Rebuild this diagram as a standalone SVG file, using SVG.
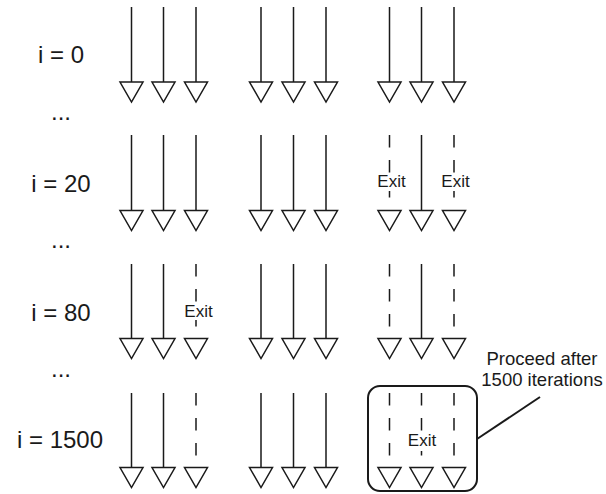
<svg xmlns="http://www.w3.org/2000/svg" xmlns:xlink="http://www.w3.org/1999/xlink" width="606" height="494" viewBox="0 0 606 494">
<style>
.s{stroke:#1a1a1a;stroke-width:1.5;fill:none}
.d{stroke:#1a1a1a;stroke-width:1.5;fill:none;stroke-dasharray:12.5 12.5}
.t{fill:#fff;stroke:#1a1a1a;stroke-width:1.5;stroke-linejoin:miter}
.lbl{font-family:"Liberation Sans",Arial,sans-serif;font-size:24px;fill:#1a1a1a;text-anchor:middle}
.ex{font-family:"Liberation Sans",Arial,sans-serif;font-size:17px;fill:#1a1a1a;text-anchor:middle}
.note{font-family:"Liberation Sans",Arial,sans-serif;font-size:18.5px;fill:#1a1a1a;text-anchor:middle}
.bg{fill:#fff}
</style>
<defs>
<path id="tri" class="t" d="M-11.5,0 L11.5,0 L0,20 Z"/>
</defs>
<rect width="606" height="494" fill="#fff"/>

<g id="labels">
<text class="lbl" x="61" y="63">i = 0</text>
<text class="lbl" x="61" y="120">...</text>
<text class="lbl" x="61" y="192">i = 20</text>
<text class="lbl" x="61" y="248">...</text>
<text class="lbl" x="61" y="321">i = 80</text>
<text class="lbl" x="61" y="377">...</text>
<text class="lbl" x="60" y="448">i = 1500</text>
</g>

<g id="row0">
<path class="s" d="M131.5,7V82M163.5,7V82M196,7V82M261,7V82M293.5,7V82M326,7V82M389.5,7V82M421.5,7V82M454,7V82"/>
<use xlink:href="#tri" x="131.5" y="82"/><use xlink:href="#tri" x="163.5" y="82"/><use xlink:href="#tri" x="196" y="82"/>
<use xlink:href="#tri" x="261" y="82"/><use xlink:href="#tri" x="293.5" y="82"/><use xlink:href="#tri" x="326" y="82"/>
<use xlink:href="#tri" x="389.5" y="82"/><use xlink:href="#tri" x="421.5" y="82"/><use xlink:href="#tri" x="454" y="82"/>
</g>

<g id="row1">
<path class="s" d="M131.5,135V210.5M163.5,135V210.5M196,135V210.5M261,135V210.5M293.5,135V210.5M326,135V210.5M421.5,135V210.5"/>
<path class="d" d="M389.5,135V210.5M454,135V210.5"/>
<rect class="bg" x="375" y="174" width="32" height="17"/>
<rect class="bg" x="439" y="174" width="32" height="17"/>
<text class="ex" x="391.5" y="187">Exit</text>
<text class="ex" x="455.5" y="187">Exit</text>
<use xlink:href="#tri" x="131.5" y="210.5"/><use xlink:href="#tri" x="163.5" y="210.5"/><use xlink:href="#tri" x="196" y="210.5"/>
<use xlink:href="#tri" x="261" y="210.5"/><use xlink:href="#tri" x="293.5" y="210.5"/><use xlink:href="#tri" x="326" y="210.5"/>
<use xlink:href="#tri" x="389.5" y="210.5"/><use xlink:href="#tri" x="421.5" y="210.5"/><use xlink:href="#tri" x="454" y="210.5"/>
</g>

<g id="row2">
<path class="s" d="M131.5,264V338.5M163.5,264V338.5M261,264V338.5M293.5,264V338.5M326,264V338.5M421.5,264V338.5"/>
<path class="d" d="M196,264V338.5M389.5,264V338.5M454,264V338.5"/>
<rect class="bg" x="182" y="303" width="32" height="17"/>
<text class="ex" x="198.5" y="316.5">Exit</text>
<use xlink:href="#tri" x="131.5" y="338.5"/><use xlink:href="#tri" x="163.5" y="338.5"/><use xlink:href="#tri" x="196" y="338.5"/>
<use xlink:href="#tri" x="261" y="338.5"/><use xlink:href="#tri" x="293.5" y="338.5"/><use xlink:href="#tri" x="326" y="338.5"/>
<use xlink:href="#tri" x="389.5" y="338.5"/><use xlink:href="#tri" x="421.5" y="338.5"/><use xlink:href="#tri" x="454" y="338.5"/>
</g>

<g id="row3">
<path class="s" d="M131.5,393V467.5M163.5,393V467.5M261,393V467.5M293.5,393V467.5M326,393V467.5"/>
<path class="d" d="M196,393V467.5M389.5,393V467.5M421.5,393V467.5M454,393V467.5"/>
<use xlink:href="#tri" x="131.5" y="467.5"/><use xlink:href="#tri" x="163.5" y="467.5"/><use xlink:href="#tri" x="196" y="467.5"/>
<use xlink:href="#tri" x="261" y="467.5"/><use xlink:href="#tri" x="293.5" y="467.5"/><use xlink:href="#tri" x="326" y="467.5"/>
<use xlink:href="#tri" x="389.5" y="467.5"/><use xlink:href="#tri" x="421.5" y="467.5"/><use xlink:href="#tri" x="454" y="467.5"/>
</g>

<g id="box">
<rect x="368" y="386" width="109" height="105" rx="12" ry="12" fill="none" stroke="#1a1a1a" stroke-width="2"/>
<rect class="bg" x="406" y="432" width="32" height="19"/>
<text class="ex" x="422" y="446">Exit</text>
</g>

<g id="note">
<text class="note" x="542" y="365">Proceed after</text>
<text class="note" x="542" y="386">1500 iterations</text>
</g>

<g id="connectors">
<path d="M477,439L540,397" stroke="#1a1a1a" stroke-width="2" fill="none"/>
</g>
</svg>
